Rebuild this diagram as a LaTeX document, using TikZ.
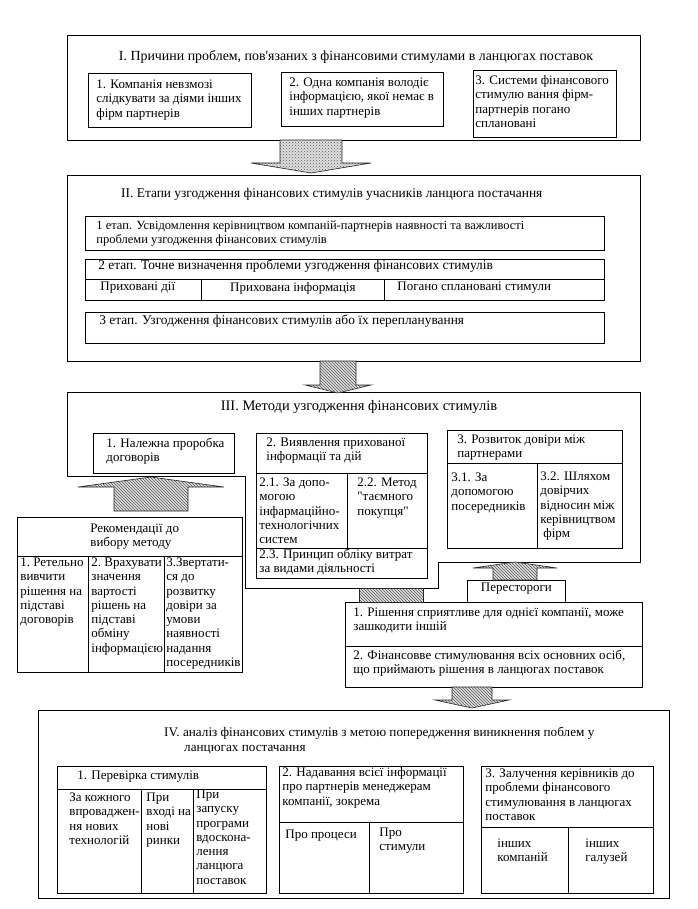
\documentclass[tikz,border=0pt]{standalone}
\usepackage{fontspec}
\setmainfont{Liberation Serif}[Ligatures=TeXOff]
\usetikzlibrary{patterns}
\newcommand{\cellfont}{\fontsize{13}{14.3}\selectfont}
\newcommand{\bigfont}{\fontsize{14.5}{14.6}\selectfont}
% text block of a cell: width cw, height ch, left indent lx, top gap ty
\newcommand{\cbox}[1]{\parbox[t][\cellh pt][t]{\cellw pt}{\raggedright\leftskip=\celllx pt\relax
  \hyphenpenalty=10000\exhyphenpenalty=10000\vspace*{\cellty pt}\strut#1}}
% hatched block arrow from a coordinate: shaft half, shaft length, head half, head length
\newcommand{\fatarrow}[6][]{\draw[fat,#1] (#2) ++(-#3,0) -- ++(0,#4) -- ++(#3-#5,0)
  -- ++(#5,#6) -- ++(#5,{-(#6)}) -- ++(#3-#5,0) -- ++(0,{-(#4)}) -- cycle;}
\tikzset{
  cw/.store in=\cellw, ch/.store in=\cellh, lx/.store in=\celllx, ty/.store in=\cellty,
  frame/.style={draw, line width=0.8pt, inner sep=0pt, anchor=north west},
  cell/.style={draw, line width=0.8pt, inner sep=0pt, anchor=north west, font=\cellfont,
               lx=5, ty=2},
  ttl/.style={font=\cellfont, inner sep=0pt},
  fat/.style={draw=black!85, line width=0.6pt, preaction={fill=gray!25},
              pattern=north west lines, pattern color=black!65},
}

\begin{document}
\begin{tikzpicture}[x=1pt, y=-1pt]
  \useasboundingbox (0,0) rectangle (697,909);

  % I
  \node[frame, minimum width=573pt, minimum height=105pt] (secI) at (67,35) {};
  \node[ttl, font=\fontsize{13.9}{15}\selectfont] (tI) at (356,57)
    {I. Причини проблем, пов'язаних з фінансовими стимулами в ланцюгах поставок};
  \node[cell, cw=163, ch=54, lx=8, ty=5] (c11) at (88,73)
    {\cbox{1. Компанія невзмозі\\слідкувати за діями інших\\фірм партнерів}};
  \node[cell, cw=162, ch=54, lx=8, ty=4] (c12) at (281,72)
    {\cbox{2. Одна компанія володіє\\інформацією, якої немає в\\інших партнерів}};
  \node[cell, cw=143, ch=67, lx=2, ty=4] (c13) at (473,70)
    {\cbox{3. Системи фінансового\\стимулю вання фірм-\\партнерів погано\\сплановані}};

  % II
  \node[frame, minimum width=573pt, minimum height=186pt] (secII) at (67,175) {};
  \node[ttl, anchor=west, font=\fontsize{13.4}{15}\selectfont] (tII) at (121,194)
    {II. Етапи узгодження фінансових стимулів учасників ланцюга постачання};
  \node[cell, cw=519, ch=34, lx=11, ty=3, font=\fontsize{12.5}{14.3}\selectfont] (s1) at (85,216)
    {\cbox{1 етап. Усвідомлення керівництвом компаній-партнерів наявності та важливості\\проблеми узгодження фінансових стимулів}};
  \node[cell, cw=519, ch=20, lx=13, ty=0, font=\fontsize{13.4}{14.3}\selectfont] (s2) at (85,259)
    {\cbox{2 етап. Точне визначення проблеми узгодження фінансових стимулів}};
  \node[cell, cw=116, ch=21, lx=15, ty=1] (s2a) at (85,279) {\cbox{Приховані дії}};
  \node[cell, cw=183, ch=21, lx=0, ty=2] (s2b) at (201,279) {\cbox{\centering Прихована інформація}};
  \node[cell, cw=220, ch=21, lx=13, ty=1] (s2c) at (384,279) {\cbox{Погано сплановані стимули}};
  \node[cell, cw=519, ch=31, lx=14, ty=2, font=\fontsize{13.4}{14.3}\selectfont] (s3) at (85,312)
    {\cbox{3 етап. Узгодження фінансових стимулів або їх перепланування}};

  % III
  \coordinate (secIII) at (67,392);
  \draw[line width=0.8pt] (secIII) -- (640,392) -- (640,562) -- (438,562) -- (438,588)
    -- (245,588) -- (245,476) -- (67,476) -- cycle;
  \node[ttl, font=\bigfont] (tIII) at (359,407) {III. Методи узгодження фінансових стимулів};
  \node[cell, cw=141, ch=40, lx=13, ty=4] (m1) at (93,433) {\cbox{1. Належна проробка\\договорів}};
  \node[cell, cw=171, ch=40, lx=10, ty=3] (m2) at (256,433)
    {\cbox{2. Виявлення прихованої\\інформації та дій}};
  \node[cell, cw=91, ch=75, lx=3, ty=3] (m21) at (256,473)
    {\cbox{2.1. За допо-\\могою\\інфармаційно-\\технологічних\\систем}};
  \node[cell, cw=80, ch=75, lx=10, ty=3] (m22) at (347,473)
    {\cbox{2.2. Метод\\"таємного\\покупця"}};
  \node[cell, cw=171, ch=30, lx=3, ty=0] (m23) at (256,548)
    {\cbox{2.3. Принцип обліку витрат\\за видами діяльності}};
  \node[cell, cw=175, ch=33, lx=10, ty=3] (m3) at (447,430)
    {\cbox{3. Розвиток довіри між\\партнерами}};
  \node[cell, cw=90, ch=85, lx=4, ty=8] (m31) at (447,463)
    {\cbox{3.1. За\\допомогою\\посередників}};
  \node[cell, cw=85, ch=85, lx=3, ty=7] (m32) at (537,463)
    {\cbox{3.2. Шляхом\\довірчих\\відносин~між\\керівництвом\\\hspace*{3pt}фірм}};

  % recommendations
  \node[cell, cw=225, ch=39, lx=73, ty=5] (rh) at (17,517) {\cbox{Рекомендації до\\вибору методу}};
  \node[cell, cw=71, ch=116, lx=3, ty=0] (r1) at (17,556)
    {\cbox{1.~Ретельно\\вивчити\\рішення~на\\підставі\\договорів}};
  \node[cell, cw=76, ch=116, lx=3, ty=0] (r2) at (88,556)
    {\cbox{2.~Врахувати\\значення\\вартості\\рішень~на\\підставі\\обміну\\інформацією}};
  \node[cell, cw=78, ch=116, lx=2, ty=0] (r3) at (164,556)
    {\cbox{3.Звертати-\\ся~до\\розвитку\\довіри~за\\умови\\наявності\\надання\\посередників}};

  % warnings
  \node[cell, cw=98, ch=22, lx=0, ty=1] (wt) at (467,580) {\cbox{\centering Перестороги}};
  \node[cell, cw=297, ch=44, lx=8, ty=4] (w1) at (345,602)
    {\cbox{1. Рішення сприятливе для однієї компанії, може\\зашкодити іншій}};
  \node[cell, cw=297, ch=41, lx=8, ty=3] (w2) at (345,646)
    {\cbox{2. Фінансовве стимулювання всіх основних осіб,\\що приймають рішення в ланцюгах поставок}};

  % IV
  \node[frame, minimum width=631pt, minimum height=188pt] (secIV) at (38,710) {};
  \node[ttl, anchor=north west, align=left, font=\fontsize{13.2}{15}\selectfont] (tIV) at (164,727)
    {IV. аналіз фінансових стимулів з метою попередження виникнення поблем у\\\hspace*{20pt}ланцюгах постачання};
  \node[cell, cw=209, ch=23, lx=20, ty=3] (f1h) at (57,766) {\cbox{1. Перевірка стимулів}};
  \node[cell, cw=84, ch=104, lx=12, ty=2] (f11) at (57,789)
    {\cbox{За кожного\\впроваджен-\\ня нових\\технологій}};
  \node[cell, cw=52, ch=104, lx=5, ty=2] (f12) at (141,789)
    {\cbox{При\\вході~на\\нові\\ринки}};
  \node[cell, cw=73, ch=104, lx=3, ty=-1] (f13) at (193,789)
    {\cbox{При\\запуску\\програми\\вдоскона-\\лення\\ланцюга\\поставок}};
  \node[cell, cw=184, ch=56, lx=3, ty=0] (f2h) at (279,766)
    {\cbox{2. Надавання всієї інформації\\про партнерів менеджерам\\компанії, зокрема}};
  \node[cell, cw=90, ch=71, lx=6, ty=6] (f21) at (279,822) {\cbox{Про процеси}};
  \node[cell, cw=94, ch=71, lx=10, ty=4] (f22) at (369,822) {\cbox{Про\\стимули}};
  \node[cell, cw=172, ch=61, lx=4, ty=1] (f3h) at (481,766)
    {\cbox{3. Залучення керівників до\\проблеми фінансового\\стимулювання в ланцюгах\\поставок}};
  \node[cell, cw=87, ch=66, lx=16, ty=10] (f31) at (481,827) {\cbox{інших\\компаній}};
  \node[cell, cw=85, ch=66, lx=17, ty=10] (f32) at (568,827) {\cbox{інших\\галузей}};

  % block arrows
  \coordinate (ar1) at (311,140);
  \coordinate (ar2) at (338,361);
  \coordinate (ar3) at (151,511);
  \coordinate (ar4) at (472,687);
  \coordinate (ar5) at (515,580);
  \coordinate (bar) at (359,588);
  \fatarrow[pattern=crosshatch dots]{ar1}{31}{23}{60}{10}
  \fatarrow{ar2}{18}{24}{33}{8}
  \fatarrow{ar3}{37}{-24}{73}{-10}
  \fatarrow{ar5}{22}{-12}{42}{-6}
  \fatarrow{ar4}{20}{13}{37}{8}
  \draw[fat] (bar) rectangle ++(64,14);
\end{tikzpicture}
\end{document}
